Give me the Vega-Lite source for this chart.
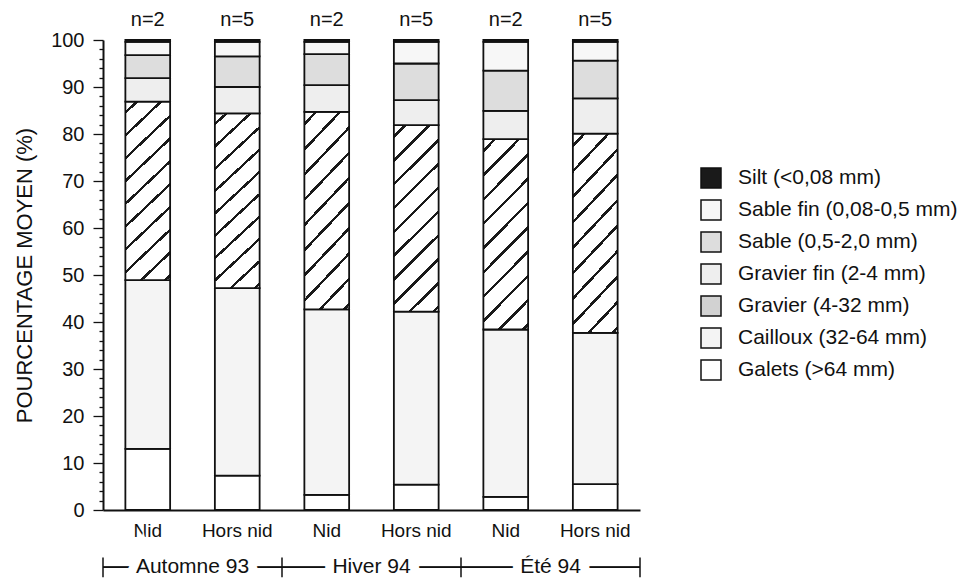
{
  "$schema": "https://vega.github.io/schema/vega-lite/v6.json",
  "width": 537,
  "height": 470,
  "autosize": "none",
  "padding": {"left": 103, "top": 40, "right": 339, "bottom": 69},
  "background": "white",
  "config": {"view": {"stroke": null}, "font": "Liberation Sans"},
  "datasets": {
    "comp": [
      {"group": "Automne 93|Nid", "cat": "Galets (>64 mm)", "rank": 1, "value": 13.0},
      {"group": "Automne 93|Nid", "cat": "Cailloux (32-64 mm)", "rank": 2, "value": 35.9},
      {"group": "Automne 93|Nid", "cat": "Gravier (4-32 mm)", "rank": 3, "value": 38.0},
      {"group": "Automne 93|Nid", "cat": "Gravier fin (2-4 mm)", "rank": 4, "value": 5.0},
      {"group": "Automne 93|Nid", "cat": "Sable (0,5-2,0 mm)", "rank": 5, "value": 4.9},
      {"group": "Automne 93|Nid", "cat": "Sable fin (0,08-0,5 mm)", "rank": 6, "value": 2.8},
      {"group": "Automne 93|Nid", "cat": "Silt (<0,08 mm)", "rank": 7, "value": 0.4},
      {"group": "Automne 93|Hors nid", "cat": "Galets (>64 mm)", "rank": 1, "value": 7.3},
      {"group": "Automne 93|Hors nid", "cat": "Cailloux (32-64 mm)", "rank": 2, "value": 39.9},
      {"group": "Automne 93|Hors nid", "cat": "Gravier (4-32 mm)", "rank": 3, "value": 37.2},
      {"group": "Automne 93|Hors nid", "cat": "Gravier fin (2-4 mm)", "rank": 4, "value": 5.6},
      {"group": "Automne 93|Hors nid", "cat": "Sable (0,5-2,0 mm)", "rank": 5, "value": 6.5},
      {"group": "Automne 93|Hors nid", "cat": "Sable fin (0,08-0,5 mm)", "rank": 6, "value": 3.1},
      {"group": "Automne 93|Hors nid", "cat": "Silt (<0,08 mm)", "rank": 7, "value": 0.4},
      {"group": "Hiver 94|Nid", "cat": "Galets (>64 mm)", "rank": 1, "value": 3.2},
      {"group": "Hiver 94|Nid", "cat": "Cailloux (32-64 mm)", "rank": 2, "value": 39.5},
      {"group": "Hiver 94|Nid", "cat": "Gravier (4-32 mm)", "rank": 3, "value": 42.0},
      {"group": "Hiver 94|Nid", "cat": "Gravier fin (2-4 mm)", "rank": 4, "value": 5.7},
      {"group": "Hiver 94|Nid", "cat": "Sable (0,5-2,0 mm)", "rank": 5, "value": 6.6},
      {"group": "Hiver 94|Nid", "cat": "Sable fin (0,08-0,5 mm)", "rank": 6, "value": 2.6},
      {"group": "Hiver 94|Nid", "cat": "Silt (<0,08 mm)", "rank": 7, "value": 0.4},
      {"group": "Hiver 94|Hors nid", "cat": "Galets (>64 mm)", "rank": 1, "value": 5.4},
      {"group": "Hiver 94|Hors nid", "cat": "Cailloux (32-64 mm)", "rank": 2, "value": 36.8},
      {"group": "Hiver 94|Hors nid", "cat": "Gravier (4-32 mm)", "rank": 3, "value": 39.7},
      {"group": "Hiver 94|Hors nid", "cat": "Gravier fin (2-4 mm)", "rank": 4, "value": 5.3},
      {"group": "Hiver 94|Hors nid", "cat": "Sable (0,5-2,0 mm)", "rank": 5, "value": 7.8},
      {"group": "Hiver 94|Hors nid", "cat": "Sable fin (0,08-0,5 mm)", "rank": 6, "value": 4.6},
      {"group": "Hiver 94|Hors nid", "cat": "Silt (<0,08 mm)", "rank": 7, "value": 0.4},
      {"group": "Été 94|Nid", "cat": "Galets (>64 mm)", "rank": 1, "value": 2.8},
      {"group": "Été 94|Nid", "cat": "Cailloux (32-64 mm)", "rank": 2, "value": 35.6},
      {"group": "Été 94|Nid", "cat": "Gravier (4-32 mm)", "rank": 3, "value": 40.5},
      {"group": "Été 94|Nid", "cat": "Gravier fin (2-4 mm)", "rank": 4, "value": 6.0},
      {"group": "Été 94|Nid", "cat": "Sable (0,5-2,0 mm)", "rank": 5, "value": 8.6},
      {"group": "Été 94|Nid", "cat": "Sable fin (0,08-0,5 mm)", "rank": 6, "value": 6.1},
      {"group": "Été 94|Nid", "cat": "Silt (<0,08 mm)", "rank": 7, "value": 0.4},
      {"group": "Été 94|Hors nid", "cat": "Galets (>64 mm)", "rank": 1, "value": 5.5},
      {"group": "Été 94|Hors nid", "cat": "Cailloux (32-64 mm)", "rank": 2, "value": 32.2},
      {"group": "Été 94|Hors nid", "cat": "Gravier (4-32 mm)", "rank": 3, "value": 42.4},
      {"group": "Été 94|Hors nid", "cat": "Gravier fin (2-4 mm)", "rank": 4, "value": 7.5},
      {"group": "Été 94|Hors nid", "cat": "Sable (0,5-2,0 mm)", "rank": 5, "value": 8.0},
      {"group": "Été 94|Hors nid", "cat": "Sable fin (0,08-0,5 mm)", "rank": 6, "value": 4.0},
      {"group": "Été 94|Hors nid", "cat": "Silt (<0,08 mm)", "rank": 7, "value": 0.4}
    ],
    "bars": [
      {"group": "Automne 93|Nid", "n": "n=2"},
      {"group": "Automne 93|Hors nid", "n": "n=5"},
      {"group": "Hiver 94|Nid", "n": "n=2"},
      {"group": "Hiver 94|Hors nid", "n": "n=5"},
      {"group": "Été 94|Nid", "n": "n=2"},
      {"group": "Été 94|Hors nid", "n": "n=5"}
    ],
    "seasons": [
      {"season": "Automne 93"},
      {"season": "Hiver 94"},
      {"season": "Été 94"}
    ]
  },
  "layer": [
    {
      "layer": [
        {
          "data": {"name": "comp"},
          "mark": {"type": "bar", "stroke": "#111111", "strokeWidth": 1.8},
          "encoding": {
            "x": {
              "field": "group", "type": "nominal",
              "scale": {"domain": ["Automne 93|Nid", "Automne 93|Hors nid", "Hiver 94|Nid", "Hiver 94|Hors nid", "Été 94|Nid", "Été 94|Hors nid"], "paddingInner": 0.5, "paddingOuter": 0.25},
              "axis": {"title": null, "labelExpr": "split(datum.label, '|')[1]", "labelAngle": 0, "ticks": false, "domainColor": "#111111", "domainWidth": 2, "labelFontSize": 19, "labelColor": "#111111", "labelPadding": 11}
            },
            "y": {
              "field": "value", "type": "quantitative", "stack": "zero",
              "scale": {"domain": [0, 100], "nice": false},
              "axis": {
                "title": "POURCENTAGE MOYEN (%)", "titleFontSize": 22, "titleFontWeight": "normal", "titleColor": "#111111", "titlePadding": 14,
                "values": [0,2,4,6,8,10,12,14,16,18,20,22,24,26,28,30,32,34,36,38,40,42,44,46,48,50,52,54,56,58,60,62,64,66,68,70,72,74,76,78,80,82,84,86,88,90,92,94,96,98,100],
                "labelExpr": "datum.value % 10 === 0 ? datum.label : ''",
                "labelOverlap": false, "labelFontSize": 20, "labelColor": "#111111", "labelPadding": 9,
                "tickSize": {"condition": {"test": "datum.value % 10 === 0", "value": 10}, "value": 4},
                "tickColor": "#111111", "tickWidth": 1.3, "domainColor": "#111111", "domainWidth": 2, "grid": false
              }
            },
            "order": {"field": "rank", "type": "quantitative"},
            "fill": {
              "field": "cat", "type": "nominal",
              "scale": {
                "domain": ["Silt (<0,08 mm)", "Sable fin (0,08-0,5 mm)", "Sable (0,5-2,0 mm)", "Gravier fin (2-4 mm)", "Gravier (4-32 mm)", "Cailloux (32-64 mm)", "Galets (>64 mm)"],
                "range": ["#1a1a1a", "#f7f7f7", "#dddddd", "#eeeeee", "#d2d2d2", "#f4f4f4", "#ffffff"]
              },
              "legend": {
                "title": null, "orient": "none", "legendX": 597, "legendY": 127, "padding": 0,
                "symbolType": "square", "symbolSize": 400, "symbolStrokeColor": "#111111", "symbolStrokeWidth": 1.5,
                "labelFontSize": 21, "labelColor": "#111111", "labelOffset": 16, "rowPadding": 6, "labelLimit": 400
              },
              "condition": {
                "test": "datum.cat === 'Gravier (4-32 mm)'",
                "value": {
                  "gradient": "linear", "x1": 0, "y1": 0, "x2": 0.279, "y2": 1.172,
                  "stops": [
                    {"offset": 0, "color": "#ffffff"},
                    {"offset": 0.0425, "color": "#ffffff"}, {"offset": 0.0425, "color": "#1a1a1a"}, {"offset": 0.0575, "color": "#1a1a1a"}, {"offset": 0.0575, "color": "#ffffff"},
                    {"offset": 0.1456, "color": "#ffffff"}, {"offset": 0.1456, "color": "#1a1a1a"}, {"offset": 0.1606, "color": "#1a1a1a"}, {"offset": 0.1606, "color": "#ffffff"},
                    {"offset": 0.2487, "color": "#ffffff"}, {"offset": 0.2487, "color": "#1a1a1a"}, {"offset": 0.2637, "color": "#1a1a1a"}, {"offset": 0.2637, "color": "#ffffff"},
                    {"offset": 0.3518, "color": "#ffffff"}, {"offset": 0.3518, "color": "#1a1a1a"}, {"offset": 0.3668, "color": "#1a1a1a"}, {"offset": 0.3668, "color": "#ffffff"},
                    {"offset": 0.4549, "color": "#ffffff"}, {"offset": 0.4549, "color": "#1a1a1a"}, {"offset": 0.4699, "color": "#1a1a1a"}, {"offset": 0.4699, "color": "#ffffff"},
                    {"offset": 0.5580, "color": "#ffffff"}, {"offset": 0.5580, "color": "#1a1a1a"}, {"offset": 0.5730, "color": "#1a1a1a"}, {"offset": 0.5730, "color": "#ffffff"},
                    {"offset": 0.6611, "color": "#ffffff"}, {"offset": 0.6611, "color": "#1a1a1a"}, {"offset": 0.6761, "color": "#1a1a1a"}, {"offset": 0.6761, "color": "#ffffff"},
                    {"offset": 0.7642, "color": "#ffffff"}, {"offset": 0.7642, "color": "#1a1a1a"}, {"offset": 0.7792, "color": "#1a1a1a"}, {"offset": 0.7792, "color": "#ffffff"},
                    {"offset": 0.8673, "color": "#ffffff"}, {"offset": 0.8673, "color": "#1a1a1a"}, {"offset": 0.8823, "color": "#1a1a1a"}, {"offset": 0.8823, "color": "#ffffff"},
                    {"offset": 0.9704, "color": "#ffffff"}, {"offset": 0.9704, "color": "#1a1a1a"}, {"offset": 0.9854, "color": "#1a1a1a"}, {"offset": 0.9854, "color": "#ffffff"},
                    {"offset": 1, "color": "#ffffff"}
                  ]
                }
              }
            }
          }
        },
        {
          "data": {"name": "bars"},
          "mark": {"type": "text", "fontSize": 20, "baseline": "middle", "dy": -20, "color": "#111111"},
          "encoding": {
            "x": {"field": "group", "type": "nominal"},
            "y": {"datum": 100, "axis": null},
            "text": {"field": "n"}
          }
        }
      ],
      "resolve": {"axis": {"y": "independent"}}
    },
    {
      "data": {"name": "seasons"},
      "layer": [
        {
          "mark": {"type": "rule", "color": "#111111", "strokeWidth": 1.5},
          "encoding": {"y": {"datum": -12.2, "axis": null}}
        },
        {
          "mark": {"type": "rule", "color": "#111111", "strokeWidth": 1.5},
          "encoding": {
            "x": {"field": "season", "type": "nominal", "bandPosition": 0, "axis": null, "scale": {"domain": ["Automne 93", "Hiver 94", "Été 94"], "paddingInner": 0, "paddingOuter": 0}},
            "y": {"datum": -10.1, "axis": null},
            "y2": {"datum": -14.3}
          }
        },
        {
          "transform": [{"filter": "datum.season === 'Été 94'"}],
          "mark": {"type": "rule", "color": "#111111", "strokeWidth": 1.5},
          "encoding": {
            "x": {"field": "season", "type": "nominal", "bandPosition": 1, "axis": null},
            "y": {"datum": -10.1, "axis": null},
            "y2": {"datum": -14.3}
          }
        },
        {
          "mark": {"type": "text", "fontSize": 21, "baseline": "middle", "align": "center", "fill": "#ffffff", "stroke": "#ffffff", "strokeWidth": 18},
          "encoding": {
            "x": {"field": "season", "type": "nominal", "bandPosition": 0.5, "axis": null},
            "y": {"datum": -12.2, "axis": null},
            "text": {"field": "season"}
          }
        },
        {
          "mark": {"type": "text", "fontSize": 21, "baseline": "middle", "align": "center", "color": "#111111"},
          "encoding": {
            "x": {"field": "season", "type": "nominal", "bandPosition": 0.5, "axis": null},
            "y": {"datum": -12.2, "axis": null},
            "text": {"field": "season"}
          }
        }
      ]
    }
  ],
  "resolve": {"scale": {"x": "independent"}, "axis": {"y": "independent"}}
}
